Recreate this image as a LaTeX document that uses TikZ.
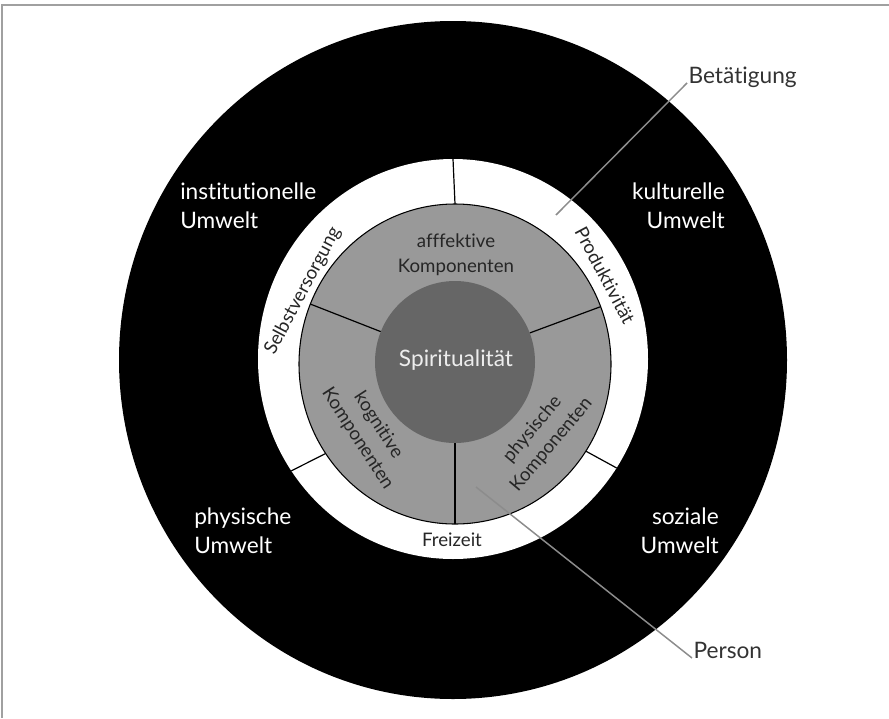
\documentclass[tikz,border=0pt]{standalone}
\usepackage{fontspec}
\setmainfont{Lato}[Ligatures={NoCommon}]
\usepackage{tikz}

\definecolor{ringgray}{HTML}{999999}
\definecolor{coregray}{HTML}{666666}
\definecolor{leadgray}{HTML}{8C8C8C}
\definecolor{calltext}{HTML}{333333}
\definecolor{framegray}{HTML}{A0A0A0}

\begin{document}
\begin{tikzpicture}[x=0.75pt,y=-0.75pt,
    outerlabel/.style={text=white,font=\fontsize{17}{22}\selectfont,inner sep=0pt},
    innerlabel/.style={text=black!85,font=\fontsize{14}{18.5}\selectfont,inner sep=0pt,align=center},
    callout/.style={text=calltext,font=\fontsize{17}{21}\selectfont,inner sep=1pt},
    divider/.style={black,line width=0.9pt},
    leader/.style={leadgray,line width=1.1pt}]
      \useasboundingbox (0,0) rectangle (889,718);
      \draw[framegray,line width=1.2pt] (2,718) -- (2,5) -- (889,5);

      \coordinate (o) at (453,360);
      \coordinate (w) at (453,359);
      \coordinate (g) at (455,364);
      \coordinate (s) at (455,362);

      \fill[black] (o) ellipse (334 and 339);
      \fill[white] (w) ellipse (195 and 200);
      \filldraw[fill=ringgray,draw=black,line width=0.8pt] (g) ellipse (156 and 160);

      \path (w) ++(-90:195 and 200) coordinate (wtop);
      \path (w) ++(146:195 and 200) coordinate (wll);
      \path (w) ++(33:195 and 200) coordinate (wlr);
      \path (g) ++(-90:156 and 160) coordinate (gtop);
      \path (g) ++(146:156 and 160) coordinate (gll);
      \path (g) ++(33:156 and 160) coordinate (glr);
      \path (g) ++(202:156 and 160) coordinate (gul);
      \path (g) ++(-21:156 and 160) coordinate (gur);
      \path (g) ++(90:156 and 160) coordinate (gbot);
      \path (s) ++(202:80 and 81) coordinate (sul);
      \path (s) ++(-21:80 and 81) coordinate (sur);
      \path (s) ++(90:80 and 81) coordinate (sbot);

      \draw[divider] (wtop) -- (gtop);
      \draw[divider] (wll) -- (gll);
      \draw[divider] (wlr) -- (glr);
      \draw[divider] (gul) -- (sul);
      \draw[divider] (gur) -- (sur);
      \draw[divider] (gbot) -- (sbot);

      \fill[coregray] (s) ellipse (80 and 81);

      \node[outerlabel,anchor=west,align=left] (inst) at (180,206) {institutionelle\\Umwelt};
      \node[outerlabel,anchor=east,align=right] (kult) at (725,206) {kulturelle\\Umwelt};
      \node[outerlabel,anchor=west,align=left] (phys) at (194,531) {physische\\Umwelt};
      \node[outerlabel,anchor=east,align=right] (soz) at (719,531) {soziale\\Umwelt};

      \node[outerlabel,text=black!7] (spir) at (456,360) {Spiritualität};
      \node[innerlabel] (aff) at (456,255) {afffektive\\Komponenten};
      \node[innerlabel,rotate=-57] (kog) at (368,432) {kognitive\\Komponenten};
      \node[innerlabel,rotate=50] (phk) at (542,437) {physische\\Komponenten};
      \node[innerlabel,rotate=62] (selbst) at (303,291) {Selbstversorgung};
      \node[innerlabel,rotate=-62] (prod) at (605,275) {Produktivität};
      \node[innerlabel] (frei) at (452,540) {Freizeit};

      \node[callout,anchor=base west] (bet) at (687,83) {Betätigung};
      \node[callout,anchor=base west] (pers) at (692,658) {Person};
      \coordinate (betpt) at (556,215);
      \coordinate (perspt) at (476,487);

      \draw[leader] (bet.base west) -- (betpt);
      \draw[leader] (pers.base west) -- (perspt);
    \end{tikzpicture}
\end{document}
